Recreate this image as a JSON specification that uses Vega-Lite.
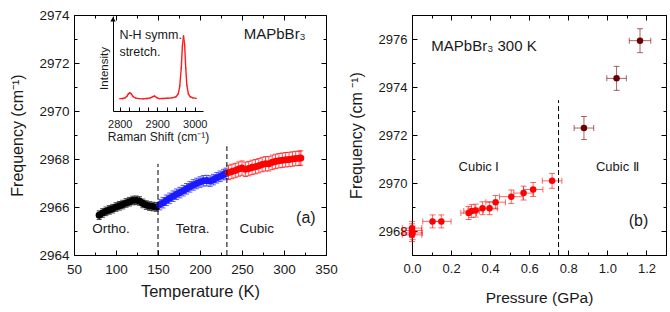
{
  "$schema": "https://vega.github.io/schema/vega-lite/v6.json",
  "padding": {"left": 9, "top": 7, "right": 7, "bottom": 0},
  "spacing": 86,
  "bounds": "flush",
  "resolve": {"scale": {"color": "independent"}},
  "config": {
    "font": "Liberation Sans",
    "view": {"stroke": "#000000", "strokeWidth": 1},
    "axis": {"grid": false, "domain": false, "tickColor": "#000000", "labelColor": "#1a1a1a", "titleColor": "#1a1a1a", "titleFontWeight": "normal", "labelFont": "Liberation Sans", "titleFont": "Liberation Sans", "labelFlush": false, "labelOverlap": false, "labelBound": false},
    "text": {"font": "Liberation Sans", "color": "#1a1a1a"}
  },
  "datasets": {
    "temp": [
      {"T": 80, "f": 2965.66, "phase": "Ortho", "e": 0.18}, {"T": 84, "f": 2965.75, "phase": "Ortho", "e": 0.18}, {"T": 88, "f": 2965.82, "phase": "Ortho", "e": 0.18}, {"T": 92, "f": 2965.88, "phase": "Ortho", "e": 0.18}, {"T": 96, "f": 2965.93, "phase": "Ortho", "e": 0.18}, {"T": 100, "f": 2966.0, "phase": "Ortho", "e": 0.18}, {"T": 104, "f": 2966.05, "phase": "Ortho", "e": 0.18}, {"T": 108, "f": 2966.1, "phase": "Ortho", "e": 0.18}, {"T": 112, "f": 2966.17, "phase": "Ortho", "e": 0.18}, {"T": 116, "f": 2966.22, "phase": "Ortho", "e": 0.18}, {"T": 120, "f": 2966.27, "phase": "Ortho", "e": 0.18}, {"T": 124, "f": 2966.28, "phase": "Ortho", "e": 0.18}, {"T": 128, "f": 2966.25, "phase": "Ortho", "e": 0.18}, {"T": 132, "f": 2966.15, "phase": "Ortho", "e": 0.18}, {"T": 136, "f": 2966.08, "phase": "Ortho", "e": 0.18}, {"T": 140, "f": 2966.04, "phase": "Ortho", "e": 0.18}, {"T": 144, "f": 2966.02, "phase": "Ortho", "e": 0.18}, {"T": 148, "f": 2966.0, "phase": "Ortho", "e": 0.18},
      {"T": 152, "f": 2966.1, "phase": "Tetra", "e": 0.22}, {"T": 156, "f": 2966.18, "phase": "Tetra", "e": 0.22}, {"T": 160, "f": 2966.28, "phase": "Tetra", "e": 0.22}, {"T": 164, "f": 2966.36, "phase": "Tetra", "e": 0.22}, {"T": 168, "f": 2966.45, "phase": "Tetra", "e": 0.22}, {"T": 172, "f": 2966.53, "phase": "Tetra", "e": 0.22}, {"T": 176, "f": 2966.6, "phase": "Tetra", "e": 0.22}, {"T": 180, "f": 2966.68, "phase": "Tetra", "e": 0.22}, {"T": 184, "f": 2966.76, "phase": "Tetra", "e": 0.22}, {"T": 188, "f": 2966.84, "phase": "Tetra", "e": 0.22}, {"T": 192, "f": 2966.92, "phase": "Tetra", "e": 0.22}, {"T": 196, "f": 2966.98, "phase": "Tetra", "e": 0.22}, {"T": 200, "f": 2967.04, "phase": "Tetra", "e": 0.22}, {"T": 204, "f": 2967.09, "phase": "Tetra", "e": 0.22}, {"T": 208, "f": 2967.1, "phase": "Tetra", "e": 0.22}, {"T": 212, "f": 2967.08, "phase": "Tetra", "e": 0.22}, {"T": 216, "f": 2967.14, "phase": "Tetra", "e": 0.22}, {"T": 220, "f": 2967.22, "phase": "Tetra", "e": 0.22}, {"T": 224, "f": 2967.28, "phase": "Tetra", "e": 0.22}, {"T": 228, "f": 2967.35, "phase": "Tetra", "e": 0.22}, {"T": 231, "f": 2967.4, "phase": "Tetra", "e": 0.22},
      {"T": 234, "f": 2967.44, "phase": "Cubic", "e": 0.3}, {"T": 238, "f": 2967.48, "phase": "Cubic", "e": 0.3}, {"T": 242, "f": 2967.52, "phase": "Cubic", "e": 0.3}, {"T": 246, "f": 2967.58, "phase": "Cubic", "e": 0.3}, {"T": 250, "f": 2967.62, "phase": "Cubic", "e": 0.3}, {"T": 254, "f": 2967.57, "phase": "Cubic", "e": 0.3}, {"T": 258, "f": 2967.6, "phase": "Cubic", "e": 0.3}, {"T": 262, "f": 2967.65, "phase": "Cubic", "e": 0.3}, {"T": 266, "f": 2967.68, "phase": "Cubic", "e": 0.3}, {"T": 270, "f": 2967.72, "phase": "Cubic", "e": 0.3}, {"T": 274, "f": 2967.77, "phase": "Cubic", "e": 0.3}, {"T": 278, "f": 2967.8, "phase": "Cubic", "e": 0.3}, {"T": 282, "f": 2967.8, "phase": "Cubic", "e": 0.3}, {"T": 286, "f": 2967.86, "phase": "Cubic", "e": 0.3}, {"T": 290, "f": 2967.9, "phase": "Cubic", "e": 0.3}, {"T": 294, "f": 2967.93, "phase": "Cubic", "e": 0.3}, {"T": 298, "f": 2967.95, "phase": "Cubic", "e": 0.3}, {"T": 302, "f": 2967.97, "phase": "Cubic", "e": 0.3}, {"T": 306, "f": 2967.98, "phase": "Cubic", "e": 0.3}, {"T": 310, "f": 2968.0, "phase": "Cubic", "e": 0.3}, {"T": 314, "f": 2968.02, "phase": "Cubic", "e": 0.3}, {"T": 318, "f": 2968.03, "phase": "Cubic", "e": 0.3}, {"T": 320, "f": 2968.04, "phase": "Cubic", "e": 0.3}
    ],
    "tempRules": [{"x": 150, "y1": 2964, "y2": 2967.8}, {"x": 232, "y1": 2964, "y2": 2968.53}],
    "tempPhase": [{"x": 94, "y": 2965.1, "t": "Ortho."}, {"x": 191.3, "y": 2965.1, "t": "Tetra."}, {"x": 267.5, "y": 2965.1, "t": "Cubic"}],
    "tempTag": [{"x": 326, "y": 2965.53, "t": "(a)"}],
    "tempName": [{"x": 289, "y": 2973.2, "t": "MAPbBr₃"}],
    "ramanSeg": [
      {"w1": 2800, "a1": 0.13, "w2": 2808, "a2": 0.132}, {"w1": 2808, "a1": 0.132, "w2": 2814, "a2": 0.138}, {"w1": 2814, "a1": 0.138, "w2": 2819, "a2": 0.155}, {"w1": 2819, "a1": 0.155, "w2": 2823, "a2": 0.18}, {"w1": 2823, "a1": 0.18, "w2": 2827, "a2": 0.193}, {"w1": 2827, "a1": 0.193, "w2": 2831, "a2": 0.178}, {"w1": 2831, "a1": 0.178, "w2": 2836, "a2": 0.15}, {"w1": 2836, "a1": 0.15, "w2": 2843, "a2": 0.136}, {"w1": 2843, "a1": 0.136, "w2": 2852, "a2": 0.13}, {"w1": 2852, "a1": 0.13, "w2": 2862, "a2": 0.128}, {"w1": 2862, "a1": 0.128, "w2": 2872, "a2": 0.131}, {"w1": 2872, "a1": 0.131, "w2": 2882, "a2": 0.138}, {"w1": 2882, "a1": 0.138, "w2": 2888, "a2": 0.152}, {"w1": 2888, "a1": 0.152, "w2": 2893, "a2": 0.158}, {"w1": 2893, "a1": 0.158, "w2": 2898, "a2": 0.142}, {"w1": 2898, "a1": 0.142, "w2": 2905, "a2": 0.13}, {"w1": 2905, "a1": 0.13, "w2": 2915, "a2": 0.131}, {"w1": 2915, "a1": 0.131, "w2": 2928, "a2": 0.134}, {"w1": 2928, "a1": 0.134, "w2": 2940, "a2": 0.138}, {"w1": 2940, "a1": 0.138, "w2": 2950, "a2": 0.15}, {"w1": 2950, "a1": 0.15, "w2": 2956, "a2": 0.18}, {"w1": 2956, "a1": 0.18, "w2": 2960, "a2": 0.26}, {"w1": 2960, "a1": 0.26, "w2": 2964, "a2": 0.45}, {"w1": 2964, "a1": 0.45, "w2": 2967, "a2": 0.68}, {"w1": 2967, "a1": 0.68, "w2": 2970, "a2": 0.79}, {"w1": 2970, "a1": 0.79, "w2": 2973, "a2": 0.7}, {"w1": 2973, "a1": 0.7, "w2": 2976, "a2": 0.45}, {"w1": 2976, "a1": 0.45, "w2": 2979, "a2": 0.27}, {"w1": 2979, "a1": 0.27, "w2": 2983, "a2": 0.18}, {"w1": 2983, "a1": 0.18, "w2": 2988, "a2": 0.15}, {"w1": 2988, "a1": 0.15, "w2": 2995, "a2": 0.138}, {"w1": 2995, "a1": 0.138, "w2": 3004, "a2": 0.133}
    ],
    "insetText": [{"w": 2799, "amp": 0.8, "t": "N-H symm."}, {"w": 2799, "amp": 0.625, "t": "stretch."}],
    "press": [
      {"p": 0.0, "f": 2968.12, "pe": 0.05, "fe": 0.28, "g": "I"}, {"p": 0.0, "f": 2968.02, "pe": 0.05, "fe": 0.28, "g": "I"}, {"p": 0.003, "f": 2967.92, "pe": 0.05, "fe": 0.28, "g": "I"}, {"p": 0.0, "f": 2967.84, "pe": 0.05, "fe": 0.28, "g": "I"},
      {"p": 0.105, "f": 2968.4, "pe": 0.05, "fe": 0.27, "g": "I"}, {"p": 0.15, "f": 2968.4, "pe": 0.05, "fe": 0.27, "g": "I"},
      {"p": 0.29, "f": 2968.75, "pe": 0.04, "fe": 0.27, "g": "I"}, {"p": 0.305, "f": 2968.83, "pe": 0.04, "fe": 0.27, "g": "I"}, {"p": 0.326, "f": 2968.85, "pe": 0.04, "fe": 0.27, "g": "I"}, {"p": 0.361, "f": 2968.95, "pe": 0.04, "fe": 0.27, "g": "I"}, {"p": 0.397, "f": 2968.95, "pe": 0.04, "fe": 0.27, "g": "I"}, {"p": 0.428, "f": 2969.2, "pe": 0.05, "fe": 0.28, "g": "I"},
      {"p": 0.508, "f": 2969.43, "pe": 0.06, "fe": 0.28, "g": "I"}, {"p": 0.571, "f": 2969.58, "pe": 0.05, "fe": 0.29, "g": "I"}, {"p": 0.62, "f": 2969.73, "pe": 0.05, "fe": 0.29, "g": "I"}, {"p": 0.717, "f": 2970.09, "pe": 0.05, "fe": 0.31, "g": "I"},
      {"p": 0.88, "f": 2972.29, "pe": 0.05, "fe": 0.48, "g": "II"}, {"p": 1.047, "f": 2974.36, "pe": 0.05, "fe": 0.5, "g": "II"}, {"p": 1.167, "f": 2975.93, "pe": 0.055, "fe": 0.5, "g": "II"}
    ],
    "pressRule": [{"x": 0.75, "y1": 2967, "y2": 2973.45}],
    "pressName": [{"x": 0.099, "y": 2975.71, "t": "MAPbBr₃  300 K"}],
    "pressPhase": [{"x": 0.343, "y": 2970.68, "t": "Cubic Ⅰ"}, {"x": 1.051, "y": 2970.68, "t": "Cubic Ⅱ"}],
    "pressTag": [{"x": 1.159, "y": 2968.42, "t": "(b)"}]
  },
  "hconcat": [
    {
      "width": 252,
      "height": 240,
      "layer": [
        {
          "data": {"name": "temp"},
          "mark": {"type": "errorbar", "ticks": {"size": 5}, "thickness": 1, "opacity": 0.7},
          "encoding": {
            "x": {"field": "T", "type": "quantitative", "scale": {"domain": [50, 350], "nice": false, "zero": false}, "axis": null},
            "y": {"field": "f", "type": "quantitative", "scale": {"domain": [2964, 2974], "nice": false, "zero": false}, "axis": null},
            "yError": {"field": "e"},
            "color": {"field": "phase", "type": "nominal", "scale": {"domain": ["Ortho", "Tetra", "Cubic"], "range": ["#000000", "#1a1aff", "#ff0000"]}, "legend": null}
          }
        },
        {
          "data": {"name": "temp"},
          "mark": {"type": "circle", "size": 50, "opacity": 1},
          "encoding": {
            "x": {"field": "T", "type": "quantitative", "scale": {"domain": [50, 350], "nice": false, "zero": false},
              "axis": {"orient": "bottom", "values": [50, 75, 100, 125, 150, 175, 200, 225, 250, 275, 300, 325, 350], "format": "d", "labelExpr": "datum.value % 50 ? '' : datum.label", "tickSize": {"condition": {"test": "datum.value % 50 != 0", "value": -3}, "value": -5}, "labelPadding": 12, "labelFontSize": 13.5, "title": "Temperature (K)", "titleFontSize": 16.5, "titlePadding": 6}},
            "y": {"field": "f", "type": "quantitative", "scale": {"domain": [2964, 2974], "nice": false, "zero": false},
              "axis": {"orient": "left", "values": [2964, 2965, 2966, 2967, 2968, 2969, 2970, 2971, 2972, 2973, 2974], "format": "d", "labelExpr": "datum.value % 2 ? '' : datum.label", "tickSize": {"condition": {"test": "datum.value % 2 != 0", "value": -3}, "value": -5}, "labelPadding": 10, "labelFontSize": 13.5, "title": "Frequency (cm⁻¹)", "titleFontSize": 16, "titlePadding": 13}},
            "color": {"field": "phase", "type": "nominal", "scale": {"domain": ["Ortho", "Tetra", "Cubic"], "range": ["#000000", "#1a1aff", "#ff0000"]}, "legend": null}
          }
        },
        {
          "data": {"name": "tempRules"},
          "mark": {"type": "rule", "strokeDash": [5, 3], "color": "#000000", "strokeWidth": 1},
          "encoding": {
            "x": {"field": "x", "type": "quantitative", "scale": {"domain": [50, 350], "nice": false, "zero": false},
              "axis": {"orient": "top", "values": [50, 75, 100, 125, 150, 175, 200, 225, 250, 275, 300, 325, 350], "labels": false, "title": null, "tickSize": {"condition": {"test": "datum.value % 50 != 0", "value": -3}, "value": -5}}},
            "y": {"field": "y1", "type": "quantitative", "scale": {"domain": [2964, 2974], "nice": false, "zero": false},
              "axis": {"orient": "right", "values": [2964, 2965, 2966, 2967, 2968, 2969, 2970, 2971, 2972, 2973, 2974], "labels": false, "title": null, "tickSize": {"condition": {"test": "datum.value % 2 != 0", "value": -3}, "value": -5}}},
            "y2": {"field": "y2"}
          }
        },
        {
          "data": {"name": "tempPhase"},
          "mark": {"type": "text", "fontSize": 13.5, "align": "center", "baseline": "middle"},
          "encoding": {
            "x": {"field": "x", "type": "quantitative", "scale": {"domain": [50, 350], "nice": false, "zero": false}, "axis": null},
            "y": {"field": "y", "type": "quantitative", "scale": {"domain": [2964, 2974], "nice": false, "zero": false}, "axis": null},
            "text": {"field": "t"}
          }
        },
        {
          "data": {"name": "tempTag"},
          "mark": {"type": "text", "fontSize": 16, "align": "center", "baseline": "middle"},
          "encoding": {
            "x": {"field": "x", "type": "quantitative", "scale": {"domain": [50, 350], "nice": false, "zero": false}, "axis": null},
            "y": {"field": "y", "type": "quantitative", "scale": {"domain": [2964, 2974], "nice": false, "zero": false}, "axis": null},
            "text": {"field": "t"}
          }
        },
        {
          "data": {"name": "tempName"},
          "mark": {"type": "text", "fontSize": 15, "align": "center", "baseline": "middle"},
          "encoding": {
            "x": {"field": "x", "type": "quantitative", "scale": {"domain": [50, 350], "nice": false, "zero": false}, "axis": null},
            "y": {"field": "y", "type": "quantitative", "scale": {"domain": [2964, 2974], "nice": false, "zero": false}, "axis": null},
            "text": {"field": "t"}
          }
        },
        {
          "data": {"name": "ramanSeg"},
          "mark": {"type": "rule", "color": "#ff1a1a", "strokeWidth": 1.4, "strokeCap": "round"},
          "encoding": {
            "x": {"field": "w1", "type": "quantitative", "scale": {"domain": [2782, 3022], "range": [39, 129], "nice": false, "zero": false}, "axis": null},
            "x2": {"field": "w2"},
            "y": {"field": "a1", "type": "quantitative", "scale": {"domain": [0, 1], "range": [96, 1], "nice": false, "zero": false}, "axis": null},
            "y2": {"field": "a2"}
          }
        },
        {
          "data": {"name": "insetText"},
          "mark": {"type": "text", "fontSize": 12.5, "align": "left", "baseline": "middle"},
          "encoding": {
            "x": {"field": "w", "type": "quantitative", "scale": {"domain": [2782, 3022], "range": [39, 129], "nice": false, "zero": false},
              "axis": {"orient": "bottom", "offset": -144, "values": [2800, 2825, 2850, 2875, 2900, 2925, 2950, 2975, 3000], "format": "d", "labelExpr": "datum.value % 100 ? '' : datum.label", "tickSize": -4, "labelPadding": 11, "labelFontSize": 11, "title": "Raman Shift (cm⁻¹)", "titleFontSize": 12, "titlePadding": 2, "domain": true, "domainColor": "#000000", "domainWidth": 1}},
            "y": {"field": "amp", "type": "quantitative", "scale": {"domain": [0, 1], "range": [96, 1], "nice": false, "zero": false},
              "axis": {"orient": "left", "offset": -39, "labels": false, "ticks": false, "title": "Intensity", "titleFontSize": 11.5, "titlePadding": 4, "titleY": 53, "domain": true, "domainColor": "#000000", "domainWidth": 1}},
            "text": {"field": "t"}
          }
        },
        {
          "data": {"values": [{}]},
          "mark": {"type": "point", "shape": "triangle-up", "filled": true, "size": 28, "color": "#000000", "opacity": 1},
          "encoding": {
            "x": {"datum": 2782, "type": "quantitative", "scale": {"domain": [2782, 3022], "range": [39, 129], "nice": false, "zero": false}, "axis": null},
            "y": {"datum": 0.965, "type": "quantitative", "scale": {"domain": [0, 1], "range": [96, 1], "nice": false, "zero": false}, "axis": null}
          }
        }
      ],
      "resolve": {"scale": {"x": "independent", "y": "independent"}, "axis": {"x": "independent", "y": "independent"}}
    },
    {
      "width": 254,
      "height": 240,
      "layer": [
        {
          "data": {"name": "press"},
          "mark": {"type": "errorbar", "ticks": {"size": 6}, "thickness": 1, "opacity": 0.6},
          "encoding": {
            "x": {"field": "p", "type": "quantitative", "scale": {"domain": [0, 1.3], "nice": false, "zero": false}, "axis": null},
            "y": {"field": "f", "type": "quantitative", "scale": {"domain": [2967, 2977], "nice": false, "zero": false}, "axis": null},
            "yError": {"field": "fe"},
            "color": {"field": "g", "type": "nominal", "scale": {"domain": ["I", "II"], "range": ["#ff0000", "#6b0000"]}, "legend": null}
          }
        },
        {
          "data": {"name": "press"},
          "mark": {"type": "errorbar", "ticks": {"size": 6}, "thickness": 1, "opacity": 0.6},
          "encoding": {
            "x": {"field": "p", "type": "quantitative", "scale": {"domain": [0, 1.3], "nice": false, "zero": false}, "axis": null},
            "xError": {"field": "pe"},
            "y": {"field": "f", "type": "quantitative", "scale": {"domain": [2967, 2977], "nice": false, "zero": false}, "axis": null},
            "color": {"field": "g", "type": "nominal", "scale": {"domain": ["I", "II"], "range": ["#ff0000", "#6b0000"]}, "legend": null}
          }
        },
        {
          "data": {"name": "press"},
          "mark": {"type": "circle", "size": 42, "opacity": 1},
          "encoding": {
            "x": {"field": "p", "type": "quantitative", "scale": {"domain": [0, 1.3], "nice": false, "zero": false},
              "axis": {"orient": "bottom", "values": [0, 0.1, 0.2, 0.3, 0.4, 0.5, 0.6, 0.7, 0.8, 0.9, 1.0, 1.1, 1.2, 1.3], "format": ".1f", "labelExpr": "round(datum.value * 10) % 2 ? '' : datum.label", "tickSize": {"condition": {"test": "round(datum.value * 10) % 2 != 0", "value": -3}, "value": -5}, "labelPadding": 12, "labelFontSize": 13, "title": "Pressure (GPa)", "titleFontSize": 15.5, "titlePadding": 13}},
            "y": {"field": "f", "type": "quantitative", "scale": {"domain": [2967, 2977], "nice": false, "zero": false},
              "axis": {"orient": "left", "values": [2967, 2968, 2969, 2970, 2971, 2972, 2973, 2974, 2975, 2976, 2977], "format": "d", "labelExpr": "datum.value % 2 ? '' : datum.label", "tickSize": {"condition": {"test": "datum.value % 2 != 0", "value": -3}, "value": -5}, "labelPadding": 10, "labelFontSize": 13, "title": "Frequency (cm ⁻¹)", "titleFontSize": 16, "titlePadding": 14}},
            "color": {"field": "g", "type": "nominal", "scale": {"domain": ["I", "II"], "range": ["#ff0000", "#6b0000"]}, "legend": null}
          }
        },
        {
          "data": {"name": "pressRule"},
          "mark": {"type": "rule", "strokeDash": [5, 3], "color": "#000000", "strokeWidth": 1},
          "encoding": {
            "x": {"field": "x", "type": "quantitative", "scale": {"domain": [0, 1.3], "nice": false, "zero": false},
              "axis": {"orient": "top", "values": [0, 0.1, 0.2, 0.3, 0.4, 0.5, 0.6, 0.7, 0.8, 0.9, 1.0, 1.1, 1.2, 1.3], "labels": false, "title": null, "tickSize": {"condition": {"test": "round(datum.value * 10) % 2 != 0", "value": -3}, "value": -5}}},
            "y": {"field": "y1", "type": "quantitative", "scale": {"domain": [2967, 2977], "nice": false, "zero": false},
              "axis": {"orient": "right", "values": [2967, 2968, 2969, 2970, 2971, 2972, 2973, 2974, 2975, 2976, 2977], "labels": false, "title": null, "tickSize": {"condition": {"test": "datum.value % 2 != 0", "value": -3}, "value": -5}}},
            "y2": {"field": "y2"}
          }
        },
        {
          "data": {"name": "pressName"},
          "mark": {"type": "text", "fontSize": 15, "align": "left", "baseline": "middle"},
          "encoding": {
            "x": {"field": "x", "type": "quantitative", "scale": {"domain": [0, 1.3], "nice": false, "zero": false}, "axis": null},
            "y": {"field": "y", "type": "quantitative", "scale": {"domain": [2967, 2977], "nice": false, "zero": false}, "axis": null},
            "text": {"field": "t"}
          }
        },
        {
          "data": {"name": "pressPhase"},
          "mark": {"type": "text", "fontSize": 13, "align": "center", "baseline": "middle"},
          "encoding": {
            "x": {"field": "x", "type": "quantitative", "scale": {"domain": [0, 1.3], "nice": false, "zero": false}, "axis": null},
            "y": {"field": "y", "type": "quantitative", "scale": {"domain": [2967, 2977], "nice": false, "zero": false}, "axis": null},
            "text": {"field": "t"}
          }
        },
        {
          "data": {"name": "pressTag"},
          "mark": {"type": "text", "fontSize": 16, "align": "center", "baseline": "middle"},
          "encoding": {
            "x": {"field": "x", "type": "quantitative", "scale": {"domain": [0, 1.3], "nice": false, "zero": false}, "axis": null},
            "y": {"field": "y", "type": "quantitative", "scale": {"domain": [2967, 2977], "nice": false, "zero": false}, "axis": null},
            "text": {"field": "t"}
          }
        }
      ],
      "resolve": {"axis": {"x": "independent", "y": "independent"}}
    }
  ]
}
